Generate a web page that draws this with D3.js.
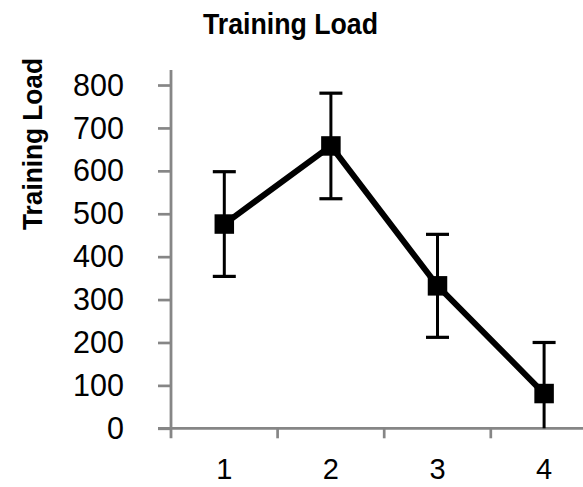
<!DOCTYPE html>
<html>
<head>
<meta charset="utf-8">
<script src="https://cdn.jsdelivr.net/npm/d3@7/dist/d3.min.js"></script>
<style>
  html, body { margin: 0; padding: 0; background: #fff; }
  svg { display: block; }
</style>
</head>
<body>
<div id="chart"></div>
<script>
// ------- data -------
const categories = ["1", "2", "3", "4"];
const means = [476, 658, 332, 81];
const errors = [122, 123, 120, 119];
const yTicks = [0, 100, 200, 300, 400, 500, 600, 700, 800];
const chartTitle = "Training Load";
const yTitle = "Training Load";

const W = 583, H = 487;
const FONT = "'Liberation Sans', Arial, sans-serif";
const AXIS = "#868686";

const svg = d3.select("#chart").append("svg")
  .attr("width", W).attr("height", H);

const x = d3.scaleBand().domain(categories).range([171, 597.4]);
const y = d3.scaleLinear().domain([0, 835]).range([428.3, 70]);

const rows = categories.map((c, i) => ({ c, m: means[i], e: errors[i] }));

// title
svg.append("text")
  .attr("x", 290.5).attr("y", 34.3)
  .attr("text-anchor", "middle")
  .attr("font-family", FONT).attr("font-weight", "bold").attr("font-size", 29)
  .attr("textLength", 175).attr("lengthAdjust", "spacingAndGlyphs")
  .text(chartTitle);

// y axis title
svg.append("text")
  .attr("transform", "translate(41.5,144) rotate(-90)")
  .attr("text-anchor", "middle")
  .attr("font-family", FONT).attr("font-weight", "bold").attr("font-size", 27)
  .attr("textLength", 172).attr("lengthAdjust", "spacingAndGlyphs")
  .text(yTitle);

// y axis
const gy = svg.append("g")
  .attr("transform", "translate(171,0)")
  .call(d3.axisLeft(y).tickValues(yTicks).tickSize(13).tickPadding(34).tickSizeOuter(0));
gy.select(".domain").attr("stroke", AXIS).attr("stroke-width", 2.8)
  .attr("d", `M0,${y.range()[1]}V${y(0) + 10}`);
gy.selectAll(".tick line").attr("stroke", AXIS).attr("stroke-width", 2.7);
gy.selectAll(".tick text")
  .attr("font-family", FONT).attr("font-size", 30.5).attr("fill", "#000")
  .attr("dy", "0.33em");

// x axis
const gx = svg.append("g")
  .attr("transform", `translate(0,${y(0)})`)
  .call(d3.axisBottom(x).tickSize(0).tickPadding(30).tickSizeOuter(0));
gx.select(".domain").attr("stroke", AXIS).attr("stroke-width", 2.8)
  .attr("d", `M158,0H${W + 5}`);
gx.selectAll(".tick text")
  .attr("font-family", FONT).attr("font-size", 29).attr("fill", "#000");

// x tick marks at category boundaries
gx.append("g").selectAll("line")
  .data(categories.slice(1))
  .join("line")
  .attr("x1", d => x(d)).attr("x2", d => x(d))
  .attr("y1", 0).attr("y2", 10)
  .attr("stroke", AXIS).attr("stroke-width", 2.7);

const cx = d => x(d.c) + x.bandwidth() / 2;

// connecting line
svg.append("path")
  .datum(rows)
  .attr("fill", "none").attr("stroke", "#000").attr("stroke-width", 6)
  .attr("stroke-linejoin", "miter")
  .attr("d", d3.line().x(cx).y(d => y(d.m)));

// error bars
const eb = svg.append("g").selectAll("g").data(rows).join("g");
eb.append("line")
  .attr("x1", cx).attr("x2", cx)
  .attr("y1", d => y(d.m + d.e)).attr("y2", d => y(Math.max(0, d.m - d.e)))
  .attr("stroke", "#000").attr("stroke-width", 3);
eb.append("line")
  .attr("x1", d => cx(d) - 11.5).attr("x2", d => cx(d) + 11.5)
  .attr("y1", d => y(d.m + d.e)).attr("y2", d => y(d.m + d.e))
  .attr("stroke", "#000").attr("stroke-width", 3.2);
eb.filter(d => d.m - d.e > 0).append("line")
  .attr("x1", d => cx(d) - 11.5).attr("x2", d => cx(d) + 11.5)
  .attr("y1", d => y(d.m - d.e)).attr("y2", d => y(d.m - d.e))
  .attr("stroke", "#000").attr("stroke-width", 3.2);

// square markers
const S = 19.5;
svg.append("g").selectAll("rect").data(rows).join("rect")
  .attr("x", d => cx(d) - S / 2).attr("y", d => y(d.m) - S / 2)
  .attr("width", S).attr("height", S)
  .attr("fill", "#000");
</script>
</body>
</html>
